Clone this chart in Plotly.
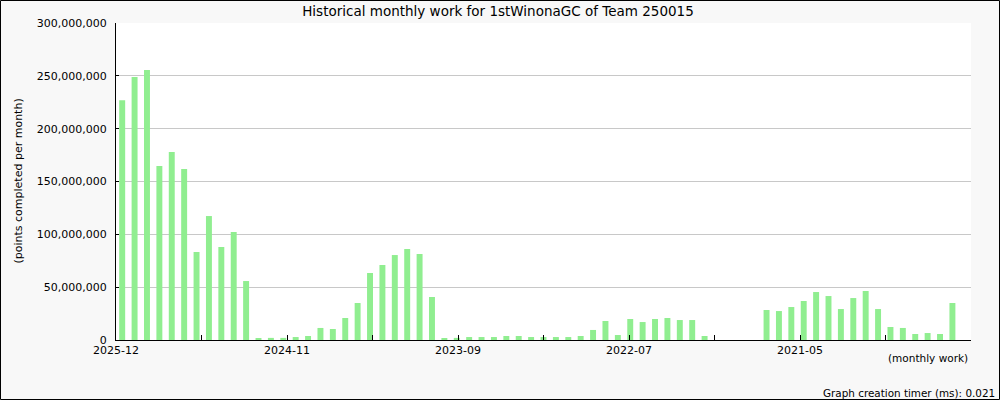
import plotly.graph_objects as go

months = [
    "2025-12", "2025-11", "2025-10", "2025-09", "2025-08", "2025-07", "2025-06", "2025-05", "2025-04", "2025-03", "2025-02", "2025-01",
    "2024-12", "2024-11", "2024-10", "2024-09", "2024-08", "2024-07", "2024-06", "2024-05", "2024-04", "2024-03", "2024-02", "2024-01",
    "2023-12", "2023-11", "2023-10", "2023-09", "2023-08", "2023-07", "2023-06", "2023-05", "2023-04", "2023-03", "2023-02", "2023-01",
    "2022-12", "2022-11", "2022-10", "2022-09", "2022-08", "2022-07", "2022-06", "2022-05", "2022-04", "2022-03", "2022-02", "2022-01",
    "2021-12", "2021-11", "2021-10", "2021-09", "2021-08", "2021-07", "2021-06", "2021-05", "2021-04", "2021-03", "2021-02", "2021-01",
    "2020-12", "2020-11", "2020-10", "2020-09", "2020-08", "2020-07", "2020-06", "2020-05", "2020-04",
]

points = [
    227000000, 249000000, 255500000, 164700000, 177900000, 161800000, 83300000, 117300000, 88000000, 102200000, 55800000, 1900000,
    2000000, 2000000, 2800000, 3800000, 11400000, 10400000, 20800000, 35000000, 63400000, 71000000, 80400000, 86100000,
    81400000, 40700000, 1900000, 2000000, 2800000, 2800000, 2800000, 3800000, 3800000, 2800000, 2800000, 2800000,
    2800000, 3800000, 9500000, 18000000, 4700000, 19900000, 17000000, 19900000, 20800000, 18900000, 18900000, 3800000,
    0, 0, 0, 0, 28400000, 27400000, 31200000, 36900000, 45400000, 41600000, 29300000, 39700000,
    46400000, 29300000, 12300000, 11400000, 5700000, 6600000, 5700000, 35000000, 0,
]

title_text = "Historical monthly work for 1stWinonaGC of Team 250015"
y_title = "(points completed per month)"
x_title = "(monthly work)"
footer_text = "Graph creation timer (ms): 0.021"

n = len(months)
idx = list(range(n))

# evenly spaced ticks across the axis, labelled every other one
n_int = 10
lo, hi = -0.5, n - 0.5
tickvals = [lo + k * (hi - lo) / n_int for k in range(n_int + 1)]
ticktext = []
for k, tv in enumerate(tickvals):
    if k % 2 == 0 and k < n_int:
        ticktext.append(months[min(n - 1, max(0, int(round(tv))))])
    else:
        ticktext.append("")

FONT = "DejaVu Sans, Verdana, sans-serif"

fig = go.Figure()
fig.add_trace(go.Bar(
    x=idx, y=points, width=0.48,
    marker=dict(color="#90ee90", line=dict(width=0)),
    customdata=months,
    hovertemplate="%{customdata}: %{y:,}<extra></extra>",
))

L, R, T, B = 116, 29, 23, 60
W, H = 1000, 400
pw, ph = W - L - R, H - T - B

fig.update_layout(
    width=W, height=H,
    margin=dict(l=L, r=R, t=T, b=B, pad=0),
    paper_bgcolor="#f8f8f8",
    plot_bgcolor="#ffffff",
    showlegend=False,
    font=dict(family=FONT, size=11, color="#000000"),
    title=dict(text=title_text, x=0.498, xanchor="center", y=1 - 11 / H, yanchor="middle",
               font=dict(family=FONT, size=13.5, color="#000000")),
    xaxis=dict(
        range=[lo, hi], tickmode="array", tickvals=tickvals, ticktext=ticktext,
        ticks="inside", ticklen=5, tickcolor="#000000", tickwidth=1,
        showline=True, linecolor="#000000", linewidth=1,
        showgrid=False, zeroline=False, ticklabelstandoff=0,
        tickfont=dict(family=FONT, size=11, color="#000000"),
    ),
    yaxis=dict(
        range=[0, 300000000], tickmode="linear", tick0=0, dtick=50000000,
        tickformat=",d",
        ticks="inside", ticklen=3, tickcolor="#000000", tickwidth=1,
        showline=True, linecolor="#000000", linewidth=1,
        showgrid=True, gridcolor="#c8c8c8", gridwidth=1,
        zeroline=False, ticklabelstandoff=6,
        tickfont=dict(family=FONT, size=11, color="#000000"),
    ),
    annotations=[
        dict(text=y_title, xref="paper", yref="paper", x=(18 - L) / pw, y=0.5,
             xanchor="center", yanchor="middle", textangle=-90, showarrow=False,
             font=dict(family=FONT, size=11, color="#000000")),
        dict(text=x_title, xref="paper", yref="paper", x=(970 - L) / pw, y=(340 - 358) / ph,
             xanchor="right", yanchor="middle", showarrow=False,
             font=dict(family=FONT, size=10.5, color="#000000")),
        dict(text=footer_text, xref="paper", yref="paper", x=(997 - L) / pw, y=(340 - 393) / ph,
             xanchor="right", yanchor="middle", showarrow=False,
             font=dict(family=FONT, size=10.4, color="#000000")),
    ],
    shapes=[
        dict(type="rect", xref="paper", yref="paper",
             x0=(0.5 - L) / pw, x1=(W - 0.5 - L) / pw,
             y0=(340 - (H - 0.5)) / ph, y1=(340 - 0.5) / ph,
             line=dict(color="#000000", width=1), fillcolor="rgba(0,0,0,0)", layer="above"),
    ],
)

fig.write_html("out.html", config={"displayModeBar": False},
               post_script="document.body.style.margin='0';document.body.style.overflow='hidden';")
